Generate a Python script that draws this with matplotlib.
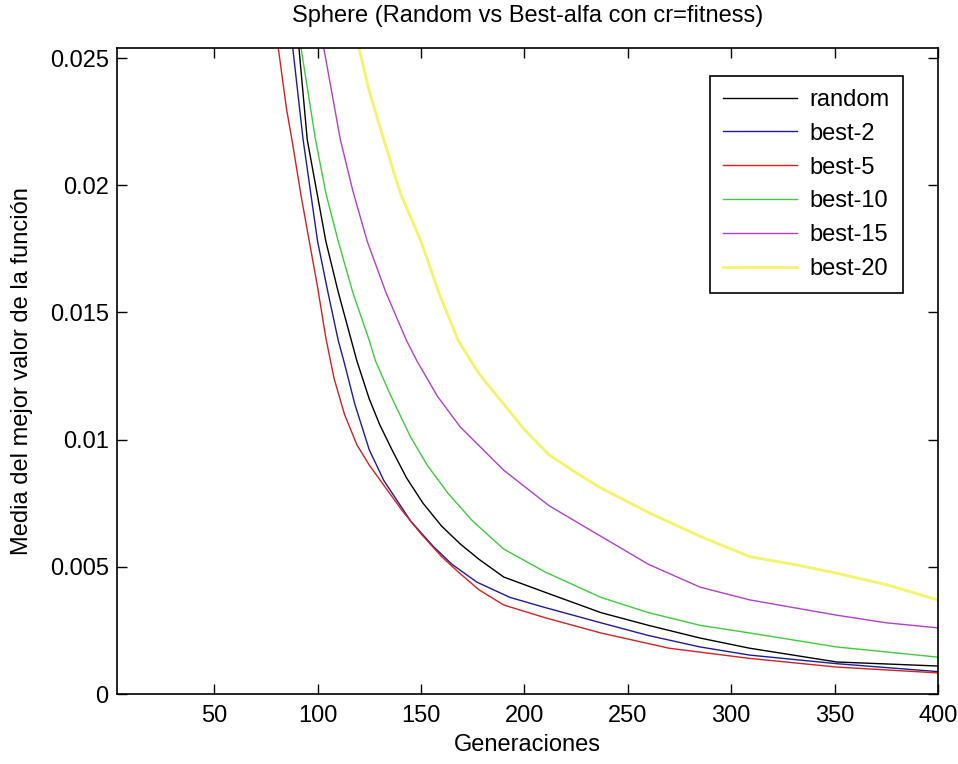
import numpy as np
import matplotlib
matplotlib.use('Agg')
import matplotlib.pyplot as plt
from matplotlib.ticker import FuncFormatter

plt.rcParams['font.family'] = ['Liberation Sans', 'DejaVu Sans']

# --- data (generation, mean best value) ---
gen_random = [91, 95, 104, 110, 116, 119, 125, 130, 136, 143, 151, 160, 169, 178,
              190, 210, 237, 260, 285, 309, 351, 400]
val_random = [0.0254, 0.0218, 0.0178, 0.0158, 0.0140, 0.0131, 0.0116, 0.0106,
              0.0096, 0.0085, 0.0075, 0.0066, 0.0059, 0.0053, 0.0046, 0.0040,
              0.0032, 0.0027, 0.0022, 0.0018, 0.00126, 0.0011]

gen_best2 = [88, 93, 100, 105, 110, 113, 118, 125, 132, 145, 156, 165, 177, 193,
             210, 237, 260, 285, 309, 350, 400]
val_best2 = [0.0254, 0.0218, 0.0178, 0.0158, 0.0139, 0.0130, 0.0114, 0.0096,
             0.0084, 0.0068, 0.0058, 0.0051, 0.0044, 0.0038, 0.0034, 0.0028,
             0.0023, 0.00185, 0.00153, 0.0012, 0.00088]

gen_best5 = [81, 85, 88, 92, 96, 100, 104, 108, 113, 119, 125, 133, 141, 150, 160,
             168, 178, 190, 210, 237, 270, 309, 351, 400]
val_best5 = [0.0254, 0.0230, 0.0216, 0.0196, 0.0178, 0.0160, 0.0140, 0.0124,
             0.0110, 0.0098, 0.0090, 0.0081, 0.0072, 0.0063, 0.0054, 0.0048,
             0.0041, 0.0035, 0.0030, 0.0024, 0.0018, 0.0014, 0.00106, 0.00083]

gen_best10 = [92, 99, 104, 110, 117, 125, 128, 135, 145, 153, 163, 175, 190, 210,
              237, 260, 285, 309, 351, 400]
val_best10 = [0.0254, 0.0218, 0.0197, 0.0178, 0.0158, 0.0139, 0.0131, 0.0118,
              0.0101, 0.0090, 0.0079, 0.0068, 0.0057, 0.0048, 0.0038, 0.0032,
              0.0027, 0.0024, 0.00185, 0.00145]

gen_best15 = [103, 107, 111, 117, 124, 133, 143, 148, 158, 169, 190, 212, 237,
              260, 285, 309, 330, 351, 375, 400]
val_best15 = [0.0254, 0.0236, 0.0218, 0.0198, 0.0178, 0.0158, 0.0139, 0.0131,
              0.0117, 0.0105, 0.0088, 0.0074, 0.0062, 0.0051, 0.0042, 0.0037,
              0.0034, 0.0031, 0.0028, 0.0026]

gen_best20 = [120, 125, 132, 140, 150, 159, 168, 178, 188, 200, 212, 225, 237,
              261, 285, 309, 330, 351, 375, 400]
val_best20 = [0.0254, 0.0237, 0.0218, 0.0197, 0.0178, 0.0157, 0.0139, 0.0126,
              0.0116, 0.0104, 0.0094, 0.0087, 0.0081, 0.0071, 0.0062, 0.0054,
              0.0051, 0.00475, 0.0043, 0.0037]

labels = ['random', 'best-2', 'best-5', 'best-10', 'best-15', 'best-20']
colors = ['#000000', '#1c1c9a', '#d42020', '#3ccc3c', '#b040c8', '#f4f466']

series = [(gen_random, val_random), (gen_best2, val_best2), (gen_best5, val_best5),
          (gen_best10, val_best10), (gen_best15, val_best15), (gen_best20, val_best20)]

fig = plt.figure(figsize=(9.58, 7.64), dpi=100)
ax = fig.add_axes([0.1221, 0.0916, 0.857, 0.8456])

for (g, v), lab, col in zip(series, labels, colors):
    lw = 2.0 if lab == 'best-20' else 1.0
    ax.plot(g, v, color=col, linewidth=lw, label=lab)

ax.set_xlim(3, 400)
ax.set_ylim(0, 0.0254)
ax.set_xticks(np.arange(50, 401, 50))
ax.set_yticks(np.arange(0, 0.0251, 0.005))
ax.yaxis.set_major_formatter(FuncFormatter(lambda y, p: '%g' % round(y, 4)))

fs = 17
ax.tick_params(direction='in', length=7, width=1, top=True, right=True,
               labelsize=fs, pad=6)
ax.tick_params(axis='x', pad=8)
for s in ax.spines.values():
    s.set_linewidth(1.2)

ax.set_title('Sphere (Random vs Best-alfa con cr=fitness)', fontsize=fs, pad=19)
ax.set_xlabel('Generaciones', fontsize=fs, labelpad=5)
ax.set_ylabel('Media del mejor valor de la función', fontsize=fs, labelpad=12)

leg = ax.legend(loc='upper right', bbox_to_anchor=(0.957, 0.9567), borderaxespad=0,
                fontsize=fs, handlelength=3.1, handletextpad=0.55, borderpad=0.55,
                labelspacing=0.5, fancybox=False, framealpha=1, edgecolor='black')
leg.get_frame().set_linewidth(1.2)

fig.savefig('out.png', dpi=100)
